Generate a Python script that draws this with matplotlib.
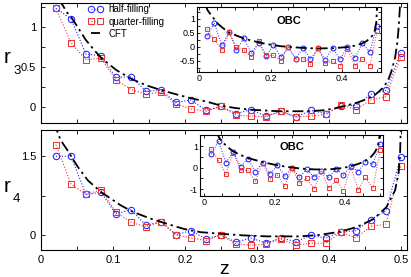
import matplotlib
matplotlib.use("Agg")
import matplotlib.pyplot as plt
from matplotlib.ticker import MultipleLocator, FormatStrFormatter
import numpy as np

plt.rcParams['font.family'] = ['Liberation Sans', 'DejaVu Sans']

# ---------------- data ----------------
z = [k / 48 for k in range(1, 25)]

r3_half = [1.23, 1.10, 0.66, 0.64, 0.37, 0.38, 0.20, 0.21, 0.06, 0.09, -0.04, 0.01,
           -0.08, -0.03, -0.11, -0.05, -0.12, -0.04, -0.08, 0.02, 0.02, 0.16, 0.21, 0.68]
r3_quarter = [1.23, 0.80, 0.59, 0.61, 0.34, 0.22, 0.16, 0.19, 0.04, -0.02, -0.05, 0.01,
              -0.10, -0.11, -0.12, -0.05, -0.12, -0.11, -0.09, 0.03, -0.03, 0.09, 0.13, 0.63]
cft3_z = [0.024, 0.028, 0.032, 0.036, 0.042, 0.050, 0.062, 0.073, 0.084, 0.095, 0.105, 0.126,
          0.147, 0.168, 0.188, 0.209, 0.230, 0.250, 0.270, 0.290, 0.310, 0.330, 0.350, 0.370,
          0.390, 0.405, 0.420, 0.440, 0.455, 0.465, 0.475, 0.482, 0.487, 0.492, 0.495, 0.497,
          0.499, 0.500]
cft3_v = [1.42, 1.30, 1.24, 1.18, 1.12, 1.01, 0.84, 0.72, 0.61, 0.53, 0.46, 0.35,
          0.27, 0.21, 0.16, 0.11, 0.07, 0.02, -0.01, -0.03, -0.04, -0.05, -0.05, -0.05,
          -0.04, -0.02, 0.01, 0.06, 0.11, 0.16, 0.24, 0.33, 0.45, 0.62, 0.80, 1.00,
          1.30, 1.45]

r4_half = [1.50, 1.50, 0.77, 0.81, 0.40, 0.48, 0.18, 0.25, 0.00, 0.08, -0.08, 0.00,
           -0.14, -0.06, -0.16, -0.06, -0.13, -0.01, -0.06, 0.05, 0.08, 0.29, 0.46, 1.49]
r4_quarter = [1.72, 0.97, 0.77, 0.86, 0.43, 0.24, 0.15, 0.25, 0.00, -0.06, -0.11, 0.00,
              -0.17, -0.20, -0.18, -0.08, -0.20, -0.16, -0.16, 0.05, -0.06, 0.16, 0.20, 1.32]
cft4_z = [0.019, 0.022, 0.025, 0.030, 0.037, 0.044, 0.051, 0.065, 0.083, 0.097, 0.111, 0.129,
          0.152, 0.175, 0.199, 0.222, 0.250, 0.280, 0.314, 0.340, 0.360, 0.388, 0.416, 0.439,
          0.462, 0.480, 0.492, 0.497, 0.499, 0.500]
cft4_v = [2.15, 2.00, 1.88, 1.75, 1.61, 1.45, 1.30, 1.04, 0.82, 0.69, 0.56, 0.43,
          0.31, 0.21, 0.11, 0.05, 0.02, -0.01, -0.03, -0.03, -0.03, 0.00, 0.06, 0.15,
          0.30, 0.53, 0.85, 1.20, 1.60, 2.15]

obc3_half = [0.38, 0.85, 0.05, 0.51, -0.12, 0.30, -0.23, 0.14, -0.34, 0.07, -0.37, 0.00,
             -0.42, -0.04, -0.44, -0.06, -0.46, -0.04, -0.45, 0.01, -0.40, 0.13, -0.19, 0.75]
obc3_quarter = [0.62, 0.28, -0.13, 0.51, 0.01, -0.12, -0.37, 0.19, -0.29, -0.31, -0.51, 0.00,
                -0.44, -0.42, -0.62, -0.05, -0.58, -0.52, -0.69, -0.09, -0.67, -0.43, -0.69, 0.57]
obc3_cft_z = [0.018, 0.022, 0.030, 0.042, 0.052, 0.063, 0.073, 0.083, 0.104, 0.125, 0.146,
              0.167, 0.188, 0.208, 0.229, 0.250, 0.290, 0.333, 0.375, 0.417, 0.438, 0.458,
              0.470, 0.480, 0.488, 0.494, 0.498, 0.500]
obc3_cft_v = [1.50, 1.32, 1.18, 0.98, 0.82, 0.70, 0.60, 0.52, 0.40, 0.30, 0.22,
              0.16, 0.10, 0.06, 0.02, 0.00, -0.04, -0.06, -0.05, -0.01, 0.04, 0.12,
              0.20, 0.30, 0.42, 0.60, 0.90, 1.50]

obc4_half = [0.62, 1.24, 0.23, 0.75, 0.04, 0.42, -0.18, 0.24, -0.30, 0.11, -0.39, 0.00,
             -0.45, -0.07, -0.45, -0.15, -0.45, -0.07, -0.35, 0.09, -0.18, 0.27, 0.17, 1.12]
obc4_quarter = [0.85, 0.34, -0.31, 0.68, -0.11, -0.13, -0.63, 0.23, -0.54, -0.35, -0.86, 0.00,
                -0.73, -0.50, -0.97, -0.17, -0.96, -0.58, -1.06, 0.01, -1.02, -0.45, -0.96, 0.80]
obc4_cft_z = [0.035, 0.040, 0.045, 0.055, 0.065, 0.074, 0.083, 0.102, 0.125, 0.149, 0.167,
              0.197, 0.220, 0.244, 0.270, 0.291, 0.315, 0.339, 0.360, 0.386, 0.410, 0.433,
              0.450, 0.462, 0.474, 0.485, 0.492, 0.496, 0.499, 0.500]
obc4_cft_v = [1.70, 1.50, 1.35, 1.15, 1.00, 0.87, 0.76, 0.60, 0.45, 0.34, 0.26,
              0.15, 0.08, 0.02, -0.03, -0.06, -0.08, -0.08, -0.07, -0.03, 0.04, 0.15,
              0.25, 0.36, 0.50, 0.72, 0.95, 1.20, 1.60, 1.70]

labels = ['half-filling', 'quarter-filling', 'CFT']

# ---------------- figure ----------------
W, H = 411, 277
fig = plt.figure(figsize=(W / 100, H / 100), dpi=100)


def rect(l, r, t, b):
    return [l / W, 1 - b / H, (r - l) / W, (b - t) / H]


BLUE = '#2222ff'
RED = '#f03535'
DASH = (0, (6, 2.2, 1.3, 2.2))


def style(ax, fs, pad, length):
    ax.tick_params(which='both', direction='in', top=True, right=True,
                   labelsize=fs, pad=pad, width=0.6)
    ax.tick_params(which='major', length=length)
    ax.tick_params(which='minor', length=length)
    for s in ax.spines.values():
        s.set_linewidth(0.8)


def draw(ax, h, q, cz, cv, ms, lw):
    ax.plot(z, h, ls=':', lw=lw, color=BLUE, marker='o', ms=ms, mfc='none',
            mec=BLUE, mew=0.75, label=labels[0])
    ax.plot(z, q, ls=':', lw=lw, color=RED, marker='s', ms=ms * 0.88, mfc='none',
            mec=RED, mew=0.75, label=labels[1])
    ax.plot(cz, cv, color='black', lw=1.3, ls=DASH, label=labels[2])


# main top
ax1 = fig.add_axes(rect(41, 407, 2.7, 122.5))
draw(ax1, r3_half, r3_quarter, cft3_z, cft3_v, 4.6, 0.8)
ax1.set_xlim(0, 0.5085)
ax1.set_ylim(-0.19, 1.30)
ax1.xaxis.set_major_locator(MultipleLocator(0.1))
ax1.xaxis.set_minor_locator(MultipleLocator(0.05))
ax1.yaxis.set_major_locator(MultipleLocator(0.5))
ax1.yaxis.set_minor_locator(MultipleLocator(0.25))
ax1.yaxis.set_major_formatter(FormatStrFormatter('%g'))
ax1.set_xticklabels([])
style(ax1, 8, 3.5, 3)
leg = ax1.legend(loc='upper left', bbox_to_anchor=((88 - 41) / 366, 0.985),
                 frameon=False, fontsize=7, numpoints=2, handlelength=1.5,
                 handletextpad=0.6, labelspacing=0.22, borderpad=0, borderaxespad=0)

# main bottom
ax2 = fig.add_axes(rect(41, 407, 130, 250))
draw(ax2, r4_half, r4_quarter, cft4_z, cft4_v, 4.6, 0.8)
ax2.set_xlim(0, 0.5085)
ax2.set_ylim(-0.29, 2.0)
ax2.xaxis.set_major_locator(MultipleLocator(0.1))
ax2.xaxis.set_minor_locator(MultipleLocator(0.05))
ax2.yaxis.set_major_locator(MultipleLocator(1.5))
ax2.yaxis.set_minor_locator(MultipleLocator(0.75))
ax2.xaxis.set_major_formatter(FormatStrFormatter('%g'))
ax2.yaxis.set_major_formatter(FormatStrFormatter('%g'))
style(ax2, 8, 3.5, 3)

# inset top
ia1 = fig.add_axes(rect(197, 381, 7, 72))
draw(ia1, obc3_half, obc3_quarter, obc3_cft_z, obc3_cft_v, 3.5, 0.7)
ia1.set_xlim(-0.007, 0.511)
ia1.set_ylim(-0.90, 1.42)
ia1.xaxis.set_major_locator(MultipleLocator(0.2))
ia1.xaxis.set_minor_locator(MultipleLocator(0.05))
ia1.yaxis.set_major_locator(MultipleLocator(0.5))
ia1.yaxis.set_minor_locator(MultipleLocator(0.25))
ia1.xaxis.set_major_formatter(FormatStrFormatter('%g'))
ia1.yaxis.set_major_formatter(FormatStrFormatter('%g'))
style(ia1, 6.5, 1.5, 2.2)
ia1.text(0.5, 0.79, 'OBC', transform=ia1.transAxes, ha='center', va='center',
         fontsize=8, fontweight='bold')

# inset bottom
ia2 = fig.add_axes(rect(200, 383, 134.5, 195.5))
draw(ia2, obc4_half, obc4_quarter, obc4_cft_z, obc4_cft_v, 3.5, 0.7)
ia2.set_xlim(-0.011, 0.508)
ia2.set_ylim(-1.29, 1.54)
ia2.xaxis.set_major_locator(MultipleLocator(0.2))
ia2.xaxis.set_minor_locator(MultipleLocator(0.05))
ia2.yaxis.set_major_locator(MultipleLocator(1))
ia2.yaxis.set_minor_locator(MultipleLocator(0.5))
ia2.xaxis.set_major_formatter(FormatStrFormatter('%g'))
ia2.yaxis.set_major_formatter(FormatStrFormatter('%g'))
style(ia2, 6.5, 1.5, 2.2)
ia2.text(0.5, 0.79, 'OBC', transform=ia2.transAxes, ha='center', va='center',
         fontsize=8, fontweight='bold')

# axis labels
def ftext(x, y, s, **kw):
    fig.text(x / W, 1 - y / H, s, **kw)

ftext(4, 63, 'r', fontsize=15, ha='left', va='baseline')
ftext(13, 73.5, '3', fontsize=9.5, ha='left', va='baseline')
ftext(4, 192, 'r', fontsize=15, ha='left', va='baseline')
ftext(13, 202, '4', fontsize=9.5, ha='left', va='baseline')
ftext(224, 274.5, 'z', fontsize=14, ha='center', va='baseline')

fig.savefig('out.png', dpi=100)
